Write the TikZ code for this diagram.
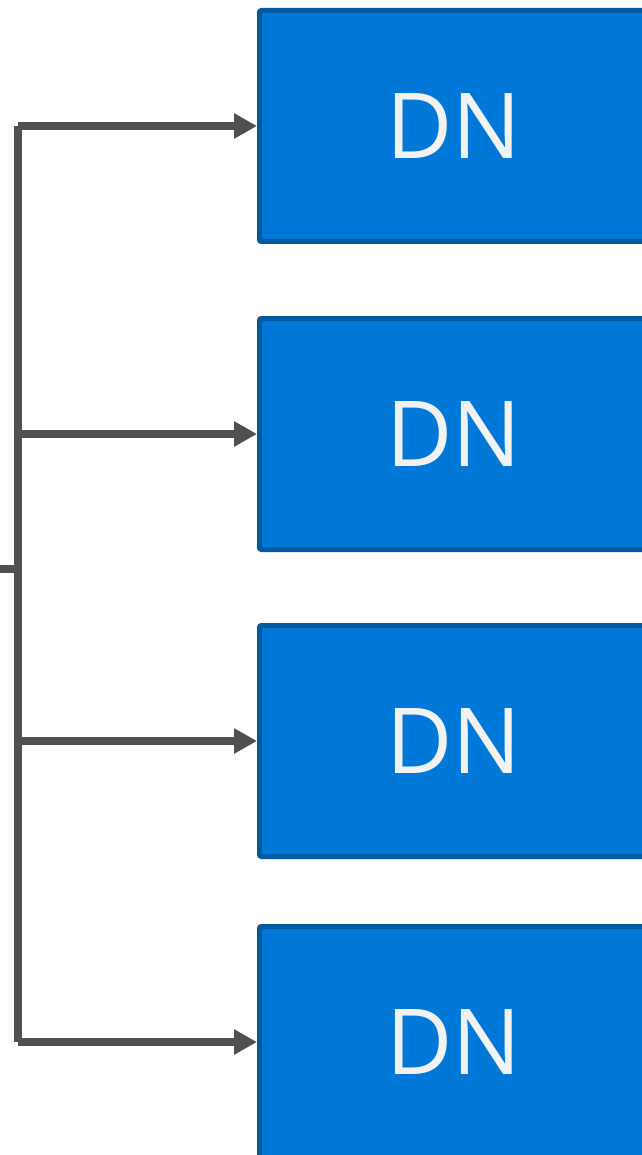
\documentclass[tikz,border=0pt]{standalone}
\usepackage{fontspec}
\setmainfont{Open Sans}
\usetikzlibrary{arrows.meta}
\definecolor{dnfill}{HTML}{0078D7}
\definecolor{dnedge}{HTML}{005A9E}
\definecolor{dntext}{HTML}{F2F2F2}
\definecolor{wire}{HTML}{505050}
\begin{document}
\begin{tikzpicture}[x=1pt,y=-1pt,
  dnbox/.style={draw=dnedge, fill=dnfill, line width=5pt, rounded corners=2pt,
    minimum width=389pt, minimum height=231pt, inner sep=0pt, outer sep=2.5pt,
    text=dntext, font=\fontsize{91}{91}\selectfont},
  wireline/.style={draw=wire, line width=8pt},
  feed/.style={wireline, -{Triangle[length=23pt,width=24pt]}}]
  \useasboundingbox (0,0) rectangle (641,1155);

  % data nodes
  \node[dnbox] (dn1) at (454,126)  {DN};
  \node[dnbox] (dn2) at (454,434)  {DN};
  \node[dnbox] (dn3) at (454,741)  {DN};
  \node[dnbox] (dn4) at (454,1042) {DN};

  % incoming feed and distribution bus
  \coordinate (src) at (0,569);
  \coordinate (bustop) at (18,126);
  \coordinate (busbot) at (18,1042);
  \draw[wireline] (bustop) -- (busbot);
  \draw[wireline] (src) -- ++(14,0);

  % branches to each node
  \foreach \n in {dn1,dn2,dn3,dn4}
    \draw[feed] (bustop |- \n.west) -- (\n.west);
\end{tikzpicture}
\end{document}
